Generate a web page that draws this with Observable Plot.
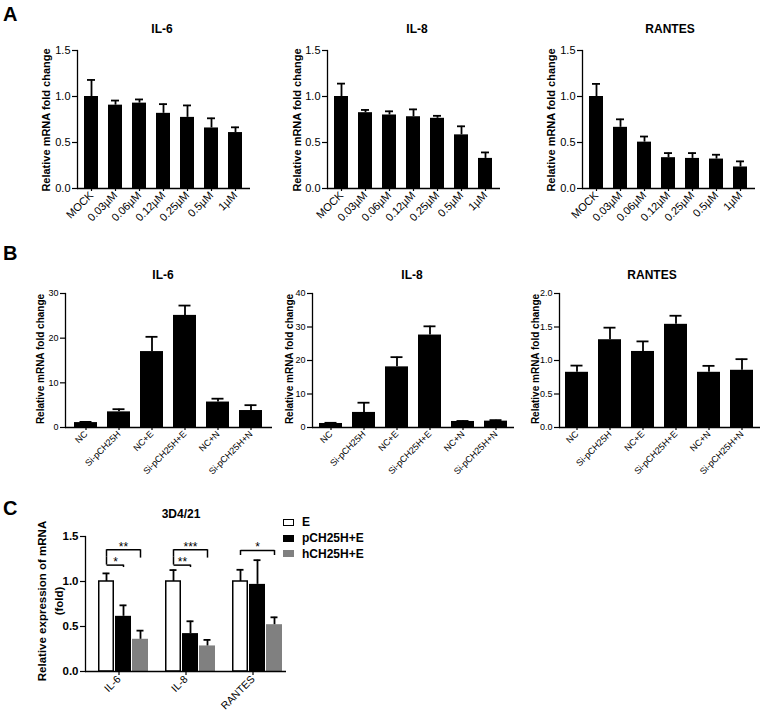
<!DOCTYPE html>
<html><head><meta charset="utf-8">
<script src="https://cdn.jsdelivr.net/npm/d3@7"></script>
<script src="https://cdn.jsdelivr.net/npm/@observablehq/plot@0.6"></script>
<style>
body{margin:0;background:#fff;}
#fig{position:relative;width:760px;height:712px;font-family:"Liberation Sans",Arial,Helvetica,sans-serif;color:#000;overflow:hidden;background:#fff}
.t{position:absolute;white-space:nowrap;line-height:1;font-weight:bold}
</style></head><body><div id="fig"></div>
<script>
// ---------- Panel A data ----------
const doses = ["MOCK","0.03µM","0.06µM","0.12µM","0.25µM","0.5µM","1µM"];
const aIL6 = [1.0,0.906,0.928,0.817,0.773,0.658,0.608];
const aIL6Sd = [0.18,0.05,0.04,0.10,0.13,0.105,0.057];
const aIL8 = [1.0,0.824,0.799,0.78,0.763,0.583,0.327];
const aIL8Sd = [0.14,0.03,0.04,0.08,0.027,0.093,0.065];
const aRANTES = [1.0,0.665,0.504,0.335,0.327,0.32,0.234];
const aRANTESSd = [0.137,0.087,0.061,0.05,0.058,0.047,0.061];
const aTicks = [0,0.5,1.0,1.5];

// ---------- Panel B data ----------
const groupsB = ["NC","Si-pCH25H","NC+E","Si-pCH25H+E","NC+N","Si-pCH25H+N"];
const bIL6 = [1.1,3.5,17.0,25.1,5.7,3.8];
const bIL6Sd = [0.15,0.6,3.3,2.2,0.75,1.2];
const bIL8 = [1.2,4.5,18.1,27.6,1.8,1.9];
const bIL8Sd = [0.2,2.9,2.9,2.6,0.15,0.3];
const bRANTES = [0.824,1.31,1.135,1.54,0.824,0.854];
const bRANTESSd = [0.1,0.18,0.15,0.128,0.096,0.166];
const bIL6Ticks = [0,10,20,30];
const bIL8Ticks = [0,10,20,30,40];
const bRANTESTicks = [0,0.5,1.0,1.5,2.0];

// ---------- Panel C data ----------
const genesC = ["IL-6","IL-8","RANTES"];
const treatC = ["E","pCH25H+E","hCH25H+E"];
const cE = [1.0,1.0,1.0];
const cESd = [0.09,0.127,0.13];
const cP = [0.613,0.421,0.968];
const cPSd = [0.122,0.137,0.269];
const cH = [0.358,0.284,0.52];
const cHSd = [0.096,0.067,0.082];
const cTicks = [0,0.5,1.0,1.5];
const cColors = ["#ffffff","#000000","#808080"];
const brackets = [
  {gene:"IL-6", from:"E", to:"hCH25H+E", y:1.352, yl:1.27, yr:1.26, label:"**", mid:false},
  {gene:"IL-6", from:"E", to:"pCH25H+E", y:1.182, yl:1.27, yr:1.155, label:"*", mid:true},
  {gene:"IL-8", from:"E", to:"hCH25H+E", y:1.352, yl:1.27, yr:1.26, label:"***", mid:false},
  {gene:"IL-8", from:"E", to:"pCH25H+E", y:1.182, yl:1.27, yr:1.155, label:"**", mid:true},
  {gene:"RANTES", from:"E", to:"hCH25H+E", y:1.344, yl:1.289, yr:1.289, label:"*", mid:false}
];

const FONT = '"Liberation Sans", Arial, Helvetica, sans-serif';
const fig = document.getElementById("fig");
const fmt1 = d3.format(".1f");

function place(el, left, top) {
  el.style.position = "absolute";
  el.style.left = left + "px";
  el.style.top = top + "px";
  fig.appendChild(el);
}
function text(str, cx, cy, size, opts = {}) {
  const d = document.createElement("div");
  d.className = "t";
  d.textContent = str;
  d.style.fontSize = size + "px";
  if (opts.weight) d.style.fontWeight = opts.weight;
  d.style.left = cx + "px";
  d.style.top = cy + "px";
  d.style.transform = opts.rotate ? "translate(-50%,-50%) rotate(-90deg)" : (opts.left ? "translate(0,-50%)" : "translate(-50%,-50%)");
  if (opts.html) { d.innerHTML = opts.html; d.style.textAlign = "center"; d.style.lineHeight = opts.lh || "1.2"; }
  fig.appendChild(d);
  return d;
}

function barChart(cfg) {
  const data = cfg.cats.map((c, i) => ({cat: c, v: cfg.values[i], sd: cfg.sds[i]}));
  const svg = Plot.plot({
    width: cfg.width, height: cfg.height,
    marginLeft: cfg.ml, marginRight: cfg.mr, marginTop: cfg.mt, marginBottom: cfg.mb,
    style: {background: "transparent", overflow: "visible", fontFamily: FONT, color: "black"},
    x: {domain: cfg.cats, paddingInner: cfg.pi, paddingOuter: cfg.po},
    y: {domain: cfg.domain},
    marks: [
      Plot.barY(data, {x: "cat", y: "v", fill: "black"}),
      Plot.ruleX(data, {x: "cat", y1: "v", y2: d => d.v + d.sd, strokeWidth: 1.8}),
      Plot.tickY(data, {x: "cat", y: d => d.v + d.sd, strokeWidth: 1.8, insetLeft: cfg.cap, insetRight: cfg.cap}),
      Plot.ruleY([0], {strokeWidth: 1.3}),
      Plot.frame({anchor: "left", strokeWidth: 1.3}),
      Plot.axisY({ticks: cfg.ticks, tickFormat: cfg.fmt, tickSize: 5, tickPadding: 2, strokeWidth: 1.2, fontSize: cfg.font, label: null}),
      Plot.axisX({tickRotate: -45, tickSize: 3, tickPadding: 2, strokeWidth: 1.2, fontSize: cfg.font, label: null})
    ]
  });
  place(svg, cfg.left, cfg.top);
}

// Panel A
const aCommon = {cats: doses, domain: [0, 1.5], ticks: aTicks, fmt: fmt1, top: 0, height: 240, mt: 50, mb: 52, pi: 0.4, po: 0.2, cap: 3, font: 11};
barChart({...aCommon, values: aIL6, sds: aIL6Sd, left: 0, width: 260, ml: 77, mr: 10});
barChart({...aCommon, values: aIL8, sds: aIL8Sd, left: 250, width: 260, ml: 77, mr: 10});
barChart({...aCommon, values: aRANTES, sds: aRANTESSd, left: 505, width: 255, ml: 77, mr: 5});

// Panel B
const bCommon = {cats: groupsB, top: 250, height: 237, mt: 43, mb: 60, pi: 0.3, cap: 5.5, font: 9};
barChart({...bCommon, values: bIL6, sds: bIL6Sd, domain: [0, 30], ticks: bIL6Ticks, fmt: d3.format("d"), left: 0, width: 275, ml: 65, mr: 3, po: 0.25});
barChart({...bCommon, values: bIL8, sds: bIL8Sd, domain: [0, 40], ticks: bIL8Ticks, fmt: d3.format("d"), left: 250, width: 270, ml: 62, mr: 6, po: 0.19});
barChart({...bCommon, values: bRANTES, sds: bRANTESSd, domain: [0, 2], ticks: bRANTESTicks, fmt: fmt1, left: 500, width: 260, ml: 59, mr: 0, po: 0.195});

// Panel C
const cVals = [cE, cP, cH], cSds = [cESd, cPSd, cHSd];
const cdata = genesC.flatMap((g, gi) => treatC.map((t, ti) => ({gene: g, treat: t, v: cVals[ti][gi], sd: cSds[ti][gi]})));
const svgC = Plot.plot({
  width: 300, height: 250, marginLeft: 84, marginRight: 14, marginTop: 66, marginBottom: 49,
  style: {background: "transparent", overflow: "visible", fontFamily: FONT, color: "black"},
  fx: {domain: genesC, paddingInner: 0, paddingOuter: 0},
  x: {domain: treatC, paddingInner: 0.08, paddingOuter: 0.466, align: 0.75, axis: null},
  y: {domain: [0, 1.5]},
  color: {domain: treatC, range: cColors},
  marks: [
    Plot.barY(cdata, {fx: "gene", x: "treat", y: "v", fill: "treat"}),
    Plot.barY(cdata.filter(d => d.treat === treatC[0]), {fx: "gene", x: "treat", y: "v", fill: "none", stroke: "black", strokeWidth: 1.5, insetLeft: 0.75, insetRight: 0.75}),
    Plot.ruleX(cdata, {fx: "gene", x: "treat", y1: "v", y2: d => d.v + d.sd, strokeWidth: 1.8}),
    Plot.tickY(cdata, {fx: "gene", x: "treat", y: d => d.v + d.sd, strokeWidth: 1.8, insetLeft: 4.5, insetRight: 4.5}),
    Plot.link(brackets, {fx: "gene", x1: "from", x2: "to", y1: "y", y2: "y", strokeWidth: 1.5}),
    Plot.ruleX(brackets, {fx: "gene", x: "from", y1: "y", y2: "yl", strokeWidth: 1.5}),
    Plot.ruleX(brackets, {fx: "gene", x: "to", y1: "y", y2: "yr", strokeWidth: 1.5}),
    Plot.text(brackets.filter(d => !d.mid), {fx: "gene", x: () => treatC[1], y: "y", text: "label", fontSize: 12, dy: -3}),
    Plot.text(brackets.filter(d => d.mid), {fx: "gene", x: "from", y: "y", text: "label", fontSize: 12, dy: -3, dx: 9}),
    Plot.ruleY([0], {strokeWidth: 1.3}),
    Plot.frame({anchor: "left", facetAnchor: "left", strokeWidth: 1.3}),
    Plot.axisY({ticks: cTicks, tickFormat: fmt1, tickSize: 5, tickPadding: 2, strokeWidth: 1.2, fontSize: 11.5, fontWeight: "bold", label: null, facetAnchor: "left"}),
    Plot.axisFx({anchor: "bottom", tickRotate: -45, tickSize: 4, tickPadding: 2, strokeWidth: 1.2, fontSize: 10.5, label: null})
  ]
});
place(svgC, 0, 470);

// Titles
[["IL-6",162],["IL-8",417],["RANTES",670]].forEach(([s,x]) => text(s, x, 29, 12));
[["IL-6",163],["IL-8",412],["RANTES",652]].forEach(([s,x]) => text(s, x, 274.5, 12));
text("3D4/21", 181, 514, 12);

// Y labels
[46, 297, 551].forEach(x => text("Relative mRNA fold change", x, 120, 11, {rotate: true}));
[41, 290, 535.5].forEach(x => text("Relative mRNA fold change", x, 359, 10, {rotate: true}));
text("", 51, 601, 11.5, {rotate: true, html: "Relative expression of mRNA<br>(fold)", lh: "17px"});

// Panel letters
const letA = text("A", 3, 0, 20); letA.style.transform = "none"; letA.style.top = "4px";
const letB = text("B", 3, 0, 20); letB.style.transform = "none"; letB.style.top = "243px";
const letC = text("C", 3, 0, 20); letC.style.transform = "none"; letC.style.top = "498px";

// Legend for C
const legY = [522, 538, 553.5];
treatC.forEach((t, i) => {
  const sw = document.createElement("div");
  sw.style.width = "11px"; sw.style.height = "7px"; sw.style.boxSizing = "border-box";
  sw.style.background = cColors[i];
  sw.style.border = "1.5px solid " + (i === 0 ? "#000" : cColors[i]);
  place(sw, 283, legY[i] - 3.5);
  text(t, 302, legY[i], 12, {left: true});
});
</script></body></html>
